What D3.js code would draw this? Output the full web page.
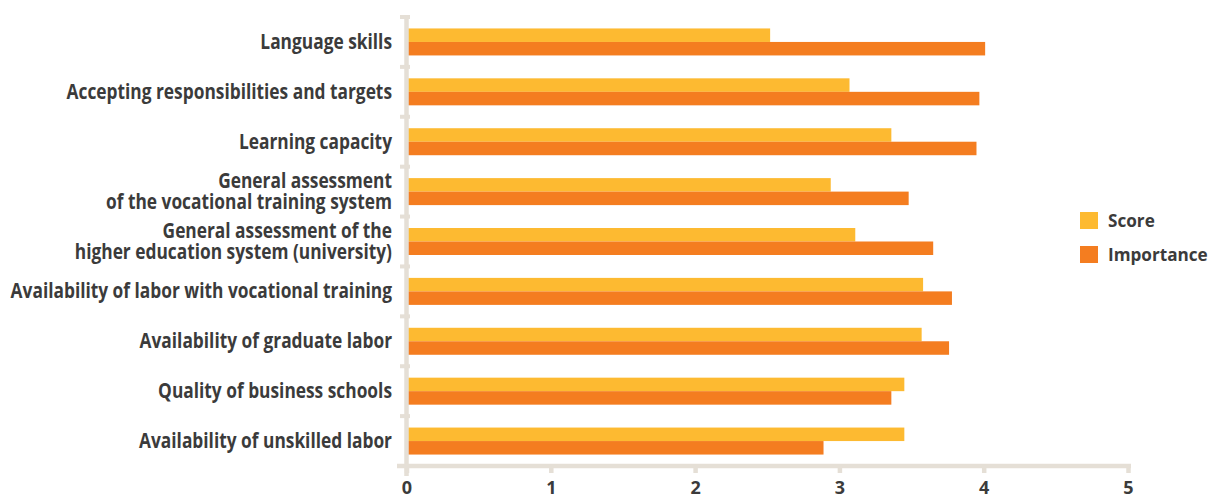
<!DOCTYPE html>
<html>
<head>
<meta charset="utf-8">
<script src="https://cdn.jsdelivr.net/npm/d3@7"></script>
<style>
  html, body { margin: 0; padding: 0; background: #ffffff; }
  svg { display: block; }
  text { font-family: "Open Sans", Lato, sans-serif; font-weight: 700; fill: #3b3b3b; }
</style>
</head>
<body>
<svg id="chart" width="1215" height="498"></svg>
<script>
// Skills survey: score vs. importance (scale 0–5)
const categories = [
  "Language skills",
  "Accepting responsibilities and targets",
  "Learning capacity",
  "General assessment \nof the vocational training system",
  "General assessment of the\nhigher education system (university)",
  "Availability of labor with vocational training",
  "Availability of graduate labor",
  "Quality of business schools",
  "Availability of unskilled labor"
];
const scoreValues      = [2.52, 3.07, 3.36, 2.94, 3.11, 3.58, 3.57, 3.45, 3.45];
const importanceValues = [4.01, 3.97, 3.95, 3.48, 3.65, 3.78, 3.76, 3.36, 2.89];
const seriesNames = ["Score", "Importance"];
const tickValues = [0, 1, 2, 3, 4, 5];

const colors = { Score: "#FDBA31", Importance: "#F47D20" };
const axisColor = "#E5DFD6";

const svg = d3.select("#chart");

const x = d3.scaleLinear().domain([0, 5]).range([406.5, 1128]);
const y = d3.scaleBand().domain(categories).range([17, 466]).padding(0);

const barH = 13.5;

// Bars
const rows = categories.map((c, i) => ({ cat: c, Score: scoreValues[i], Importance: importanceValues[i] }));
const g = svg.append("g");
seriesNames.forEach((s, si) => {
  g.selectAll("rect." + s)
    .data(rows)
    .join("rect")
    .attr("class", s)
    .attr("x", x(0))
    .attr("y", d => y(d.cat) + y.bandwidth() / 2 - barH + si * barH)
    .attr("width", d => x(d[s]) - x(0))
    .attr("height", barH)
    .attr("fill", colors[s]);
});

// Vertical axis with band separators
const axisG = svg.append("g");
axisG.append("line")
  .attr("x1", x(0)).attr("x2", x(0))
  .attr("y1", 15).attr("y2", 476)
  .attr("stroke", axisColor).attr("stroke-width", 4.5);
const bounds = categories.map(c => y(c));
axisG.selectAll("line.sep")
  .data(bounds)
  .join("line")
  .attr("class", "sep")
  .attr("x1", x(0) - 6.5).attr("x2", x(0) + 3.5)
  .attr("y1", d => d).attr("y2", d => d)
  .attr("stroke", axisColor).attr("stroke-width", 4);

// Horizontal axis
const xAxis = d3.axisBottom(x).tickValues(tickValues).tickFormat(d3.format("d")).tickSize(7).tickPadding(8);
const xg = svg.append("g").attr("transform", "translate(0,466)").call(xAxis);
xg.select(".domain").remove();
xg.insert("line", ":first-child")
  .attr("x1", 397).attr("x2", 1131).attr("y1", 0).attr("y2", 0)
  .attr("stroke", axisColor).attr("stroke-width", 4.5);
xg.selectAll(".tick line").attr("stroke", axisColor).attr("stroke-width", 4.5);
xg.selectAll(".tick text")
  .attr("fill", "#3b3b3b")
  .style("font-family", "'Open Sans', sans-serif")
  .style("font-weight", 700)
  .style("font-size", "18px");

// Category labels (right aligned, condensed)
const labelX = 392;
const labelG = svg.append("g");
rows.forEach(d => {
  const lines = d.cat.split("\n");
  const cy = y(d.cat) + y.bandwidth() / 2;
  const lh = 21;
  const start = cy - (lines.length - 1) * lh / 2 + 7;
  lines.forEach((ln, k) => {
    labelG.append("text")
      .attr("transform", `translate(${labelX},${start + k * lh}) scale(0.825,1)`)
      .attr("text-anchor", "end")
      .style("font-size", "21px")
      .text(ln.trim());
  });
});

// Legend
const legend = svg.append("g").attr("transform", "translate(1080,212)");
seriesNames.forEach((s, i) => {
  const row = legend.append("g").attr("transform", `translate(0,${i * 34})`);
  row.append("rect").attr("width", 18).attr("height", 17).attr("fill", colors[s]);
  row.append("text")
    .attr("transform", "translate(28,15) scale(0.98,1)")
    .style("font-size", "17.5px")
    .text(s);
});
</script>
</body>
</html>
